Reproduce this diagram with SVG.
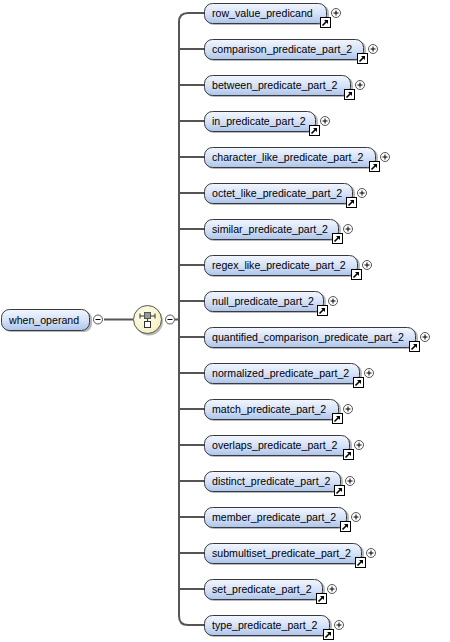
<svg xmlns="http://www.w3.org/2000/svg" width="450" height="642" viewBox="0 0 450 642">
<defs>
<linearGradient id="bg" x1="0" y1="0" x2="0" y2="1">
<stop offset="0" stop-color="#f2f6fe"/>
<stop offset="0.5" stop-color="#d6e2f8"/>
<stop offset="1" stop-color="#adc4ec"/>
</linearGradient>
<radialGradient id="yg" cx="0.4" cy="0.4" r="0.7">
<stop offset="0" stop-color="#fffff0"/>
<stop offset="1" stop-color="#f4eebc"/>
</radialGradient>
<g id="link">
<rect x="0.5" y="0.5" width="10" height="10" fill="#fff" stroke="#000"/>
<path d="M2.5,8.5 L7.5,3.5" stroke="#000" stroke-width="1.6"/>
<path d="M4,3 L8,3 L8,7 Z" fill="#000"/>
</g>
<g id="plus">
<circle cx="0" cy="0" r="4.5" fill="#fff" stroke="#555"/>
<path d="M-2.5,0 H2.5 M0,-2.5 V2.5" stroke="#000" stroke-width="1"/>
</g>
<g id="minus">
<circle cx="0" cy="0" r="4.5" fill="#fff" stroke="#555"/>
<path d="M-2.5,0 H2.5" stroke="#000" stroke-width="1"/>
</g>
</defs>
<style>
.box{fill:url(#bg);stroke:#3a3a3a;stroke-width:1}
.sh{fill:#b8b8b8}
.t{font-family:"Liberation Sans",Arial,sans-serif;font-size:10.6px;fill:#000}
.c{fill:none;stroke:#555;stroke-width:2}
</style>
<g id="connectors">
<path class="c" d="M104,319.5 H133"/>
<path class="c" d="M204,13 H188 Q179,13 179,22 V616 Q179,625 188,625 H204" stroke-width="2.5"/>
<path class="c" d="M179,49 H204 M179,85 H204 M179,121 H204 M179,157 H204 M179,193 H204 M179,229 H204 M179,265 H204 M179,301 H204 M179,337 H204 M179,373 H204 M179,409 H204 M179,445 H204 M179,481 H204 M179,517 H204 M179,553 H204 M179,589 H204"/>
<path class="c" d="M175,319.5 H179"/>
</g>
<g id="when_operand">
<rect class="sh" x="3" y="311" width="89" height="21" rx="8"/>
<rect class="box" x="1.5" y="309.5" width="88" height="21" rx="8"/>
<text class="t" x="9" y="323.5">when_operand</text>
<use href="#minus" x="98" y="319.5"/>
</g>
<g id="sequence">
<circle cx="149" cy="321.5" r="14" fill="#b8b8b8"/>
<circle cx="147.5" cy="319.5" r="14" fill="url(#yg)" stroke="#555" stroke-width="1"/>
<path d="M140,316 H155 M140,313.5 V318.5 M155,313.5 V318.5 M147.5,316 V322" stroke="#333" stroke-width="1"/>
<rect x="144.5" y="312.5" width="6" height="6" fill="#999" stroke="#555"/>
<rect x="144.5" y="321.5" width="6" height="6" fill="#fff" stroke="#333"/>
<use href="#minus" x="170" y="319.5"/>
</g>
<g id="row_value_predicand"><rect class="sh" x="206" y="5" width="123" height="20" rx="8"/><rect class="box" x="204.5" y="3.5" width="122" height="20" rx="8"/><text class="t" x="212" y="17">row_value_predicand</text><use href="#link" x="320" y="17"/><use href="#plus" x="336" y="13"/></g>
<g id="comparison_predicate_part_2"><rect class="sh" x="206" y="41" width="160" height="20" rx="8"/><rect class="box" x="204.5" y="39.5" width="159" height="20" rx="8"/><text class="t" x="212" y="53">comparison_predicate_part_2</text><use href="#link" x="357" y="53"/><use href="#plus" x="373" y="49"/></g>
<g id="between_predicate_part_2"><rect class="sh" x="206" y="77" width="147" height="20" rx="8"/><rect class="box" x="204.5" y="75.5" width="146" height="20" rx="8"/><text class="t" x="212" y="89">between_predicate_part_2</text><use href="#link" x="344" y="89"/><use href="#plus" x="360" y="85"/></g>
<g id="in_predicate_part_2"><rect class="sh" x="206" y="113" width="112" height="20" rx="8"/><rect class="box" x="204.5" y="111.5" width="111" height="20" rx="8"/><text class="t" x="212" y="125">in_predicate_part_2</text><use href="#link" x="309" y="125"/><use href="#plus" x="325" y="121"/></g>
<g id="character_like_predicate_part_2"><rect class="sh" x="206" y="149" width="172" height="20" rx="8"/><rect class="box" x="204.5" y="147.5" width="171" height="20" rx="8"/><text class="t" x="212" y="161">character_like_predicate_part_2</text><use href="#link" x="369" y="161"/><use href="#plus" x="385" y="157"/></g>
<g id="octet_like_predicate_part_2"><rect class="sh" x="206" y="185" width="149" height="20" rx="8"/><rect class="box" x="204.5" y="183.5" width="148" height="20" rx="8"/><text class="t" x="212" y="197">octet_like_predicate_part_2</text><use href="#link" x="346" y="197"/><use href="#plus" x="362" y="193"/></g>
<g id="similar_predicate_part_2"><rect class="sh" x="206" y="221" width="135" height="20" rx="8"/><rect class="box" x="204.5" y="219.5" width="134" height="20" rx="8"/><text class="t" x="212" y="233">similar_predicate_part_2</text><use href="#link" x="332" y="233"/><use href="#plus" x="348" y="229"/></g>
<g id="regex_like_predicate_part_2"><rect class="sh" x="206" y="257" width="154" height="20" rx="8"/><rect class="box" x="204.5" y="255.5" width="153" height="20" rx="8"/><text class="t" x="212" y="269">regex_like_predicate_part_2</text><use href="#link" x="351" y="269"/><use href="#plus" x="367" y="265"/></g>
<g id="null_predicate_part_2"><rect class="sh" x="206" y="293" width="120" height="20" rx="8"/><rect class="box" x="204.5" y="291.5" width="119" height="20" rx="8"/><text class="t" x="212" y="305">null_predicate_part_2</text><use href="#link" x="317" y="305"/><use href="#plus" x="333" y="301"/></g>
<g id="quantified_comparison_predicate_part_2"><rect class="sh" x="206" y="329" width="212" height="20" rx="8"/><rect class="box" x="204.5" y="327.5" width="211" height="20" rx="8"/><text class="t" x="212" y="341">quantified_comparison_predicate_part_2</text><use href="#link" x="409" y="341"/><use href="#plus" x="425" y="337"/></g>
<g id="normalized_predicate_part_2"><rect class="sh" x="206" y="365" width="156" height="20" rx="8"/><rect class="box" x="204.5" y="363.5" width="155" height="20" rx="8"/><text class="t" x="212" y="377">normalized_predicate_part_2</text><use href="#link" x="353" y="377"/><use href="#plus" x="369" y="373"/></g>
<g id="match_predicate_part_2"><rect class="sh" x="206" y="401" width="135" height="20" rx="8"/><rect class="box" x="204.5" y="399.5" width="134" height="20" rx="8"/><text class="t" x="212" y="413">match_predicate_part_2</text><use href="#link" x="332" y="413"/><use href="#plus" x="348" y="409"/></g>
<g id="overlaps_predicate_part_2"><rect class="sh" x="206" y="437" width="146" height="20" rx="8"/><rect class="box" x="204.5" y="435.5" width="145" height="20" rx="8"/><text class="t" x="212" y="449">overlaps_predicate_part_2</text><use href="#link" x="343" y="449"/><use href="#plus" x="359" y="445"/></g>
<g id="distinct_predicate_part_2"><rect class="sh" x="206" y="473" width="137" height="20" rx="8"/><rect class="box" x="204.5" y="471.5" width="136" height="20" rx="8"/><text class="t" x="212" y="485">distinct_predicate_part_2</text><use href="#link" x="334" y="485"/><use href="#plus" x="350" y="481"/></g>
<g id="member_predicate_part_2"><rect class="sh" x="206" y="509" width="143" height="20" rx="8"/><rect class="box" x="204.5" y="507.5" width="142" height="20" rx="8"/><text class="t" x="212" y="521">member_predicate_part_2</text><use href="#link" x="340" y="521"/><use href="#plus" x="356" y="517"/></g>
<g id="submultiset_predicate_part_2"><rect class="sh" x="206" y="545" width="158" height="20" rx="8"/><rect class="box" x="204.5" y="543.5" width="157" height="20" rx="8"/><text class="t" x="212" y="557">submultiset_predicate_part_2</text><use href="#link" x="355" y="557"/><use href="#plus" x="371" y="553"/></g>
<g id="set_predicate_part_2"><rect class="sh" x="206" y="581" width="119" height="20" rx="8"/><rect class="box" x="204.5" y="579.5" width="118" height="20" rx="8"/><text class="t" x="212" y="593">set_predicate_part_2</text><use href="#link" x="316" y="593"/><use href="#plus" x="332" y="589"/></g>
<g id="type_predicate_part_2"><rect class="sh" x="206" y="617" width="126" height="20" rx="8"/><rect class="box" x="204.5" y="615.5" width="125" height="20" rx="8"/><text class="t" x="212" y="629">type_predicate_part_2</text><use href="#link" x="323" y="629"/><use href="#plus" x="339" y="625"/></g>
</svg>
